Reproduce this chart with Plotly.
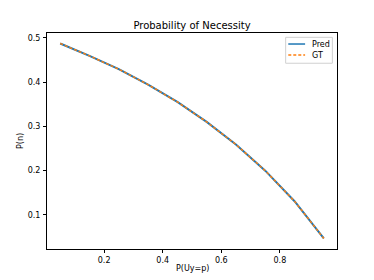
import plotly.graph_objects as go

p_uy = [0.05, 0.15, 0.25, 0.35, 0.45, 0.55, 0.65, 0.75, 0.85, 0.95]
pred = [0.487, 0.459, 0.429, 0.394, 0.355, 0.310, 0.259, 0.200, 0.131, 0.047]
gt = [0.487, 0.459, 0.429, 0.394, 0.355, 0.310, 0.259, 0.200, 0.131, 0.047]

series_names = ["Pred", "GT"]
series_colors = ["#1f77b4", "#ff7f0e"]

font = "DejaVu Sans"

fig = go.Figure()
fig.add_trace(go.Scatter(x=p_uy, y=pred, mode="lines", name=series_names[0],
                         line=dict(color=series_colors[0], width=2)))
fig.add_trace(go.Scatter(x=p_uy, y=gt, mode="lines", name=series_names[1],
                         line=dict(color=series_colors[1], width=1.4, dash="3px,2px")))

axis_common = dict(showline=True, linecolor="black", linewidth=1, mirror=True,
                   ticks="outside", ticklen=3, tickwidth=1, tickcolor="black",
                   showgrid=False, zeroline=False, automargin=False,
                   tickfont=dict(family=font, size=8, color="black"))

# manual legend (matplotlib style, compact)
shapes = [
    dict(type="rect", xref="paper", yref="paper", x0=0.823, x1=0.984, y0=0.860, y1=0.980,
         line=dict(color="#d0d0d0", width=1), fillcolor="rgba(255,255,255,0.8)", layer="above"),
    dict(type="line", xref="paper", yref="paper", x0=0.832, x1=0.890, y0=0.949, y1=0.949,
         line=dict(color=series_colors[0], width=1.5), layer="above"),
    dict(type="line", xref="paper", yref="paper", x0=0.832, x1=0.890, y0=0.898, y1=0.898,
         line=dict(color=series_colors[1], width=1.5, dash="3px,2px"), layer="above"),
]
annotations = [
    dict(text=series_names[0], xref="paper", yref="paper", x=0.908, y=0.949,
         xanchor="left", yanchor="middle", showarrow=False,
         font=dict(family=font, size=8, color="black")),
    dict(text=series_names[1], xref="paper", yref="paper", x=0.908, y=0.898,
         xanchor="left", yanchor="middle", showarrow=False,
         font=dict(family=font, size=8, color="black")),
    dict(text="P(Uy=p)", xref="paper", yref="paper", x=0.5, y=-0.09,
         xanchor="center", yanchor="middle", showarrow=False,
         font=dict(family=font, size=8, color="black")),
    dict(text="P(n)", xref="paper", yref="paper", x=-0.093, y=0.5, textangle=-90,
         xanchor="center", yanchor="middle", showarrow=False,
         font=dict(family=font, size=8, color="black")),
]

# page body has an 8px default margin, so figure margins are compensated
fig.update_layout(
    width=374, height=280,
    margin=dict(l=39, r=45, t=25, b=39, autoexpand=False),
    paper_bgcolor="white", plot_bgcolor="white",
    title=dict(text="Probability of Necessity", x=(39 + 145) / 374, xanchor="center",
               y=1 - 17 / 280, yanchor="middle",
               font=dict(family=font, size=10, color="black")),
    xaxis=dict(range=[0.005, 0.995], tickvals=[0.2, 0.4, 0.6, 0.8],
               ticktext=["0.2", "0.4", "0.6", "0.8"], **axis_common),
    yaxis=dict(range=[0.0232, 0.5106], tickvals=[0.1, 0.2, 0.3, 0.4, 0.5],
               ticktext=["0.1", "0.2", "0.3", "0.4", "0.5"],
               ticklabelstandoff=1, **axis_common),
    shapes=shapes,
    annotations=annotations,
    showlegend=False,
)

fig.write_html("out.html")
